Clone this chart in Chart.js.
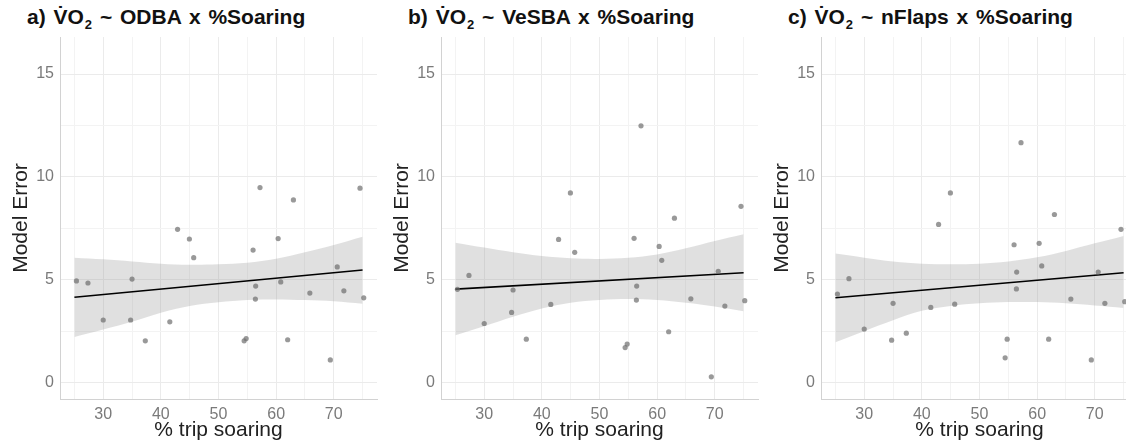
<!DOCTYPE html>
<html>
<head>
<meta charset="utf-8">
<script src="https://cdn.jsdelivr.net/npm/chart.js@4/dist/chart.umd.min.js"></script>
<style>
  html, body { margin: 0; padding: 0; background: #fff; overflow: hidden; }
  #wrap { position: relative; width: 1126px; height: 448px; overflow: hidden; }
  canvas { position: absolute; top: 0; }
  .title {
    position: absolute; top: 5px;
    font-family: "Liberation Sans", Arial, sans-serif;
    font-weight: bold; font-size: 21px; color: #111; white-space: nowrap;
    word-spacing: 2px;
  }
  .title sub { font-size: 13px; vertical-align: -5px; line-height: 0; margin-left: 1px; }
</style>
</head>
<body>
<div id="wrap">
  <div class="title" style="left:27px">a) V&#x307;O<sub>2</sub> ~ ODBA x %Soaring</div>
  <div class="title" style="left:408px">b) V&#x307;O<sub>2</sub> ~ VeSBA x %Soaring</div>
  <div class="title" style="left:788px">c) V&#x307;O<sub>2</sub> ~ nFlaps x %Soaring</div>
  <canvas id="chartA" width="381" height="448" style="left:0px"></canvas>
  <canvas id="chartB" width="381" height="448" style="left:381px"></canvas>
  <canvas id="chartC" width="381" height="448" style="left:761px"></canvas>
</div>
<script>
// % of trip spent soaring (same trips in every panel)
const soaringPct = [25.35, 27.35, 30.0, 35.0, 34.75, 37.3, 41.55, 42.9, 44.95, 45.7, 54.45, 54.8, 56.0,
                    57.2, 56.45, 56.4, 60.35, 60.8, 62.0, 63.0, 65.85, 69.4, 70.6, 71.75, 74.55, 75.2];

// model error per trip
const errorODBA  = [4.94, 4.84, 3.04, 5.03, 3.04, 2.03, 2.95, 7.45, 6.98, 6.07, 2.03, 2.14, 6.44,
                    9.48, 4.69, 4.06, 7.0, 4.89, 2.08, 8.88, 4.35, 1.10, 5.62, 4.46, 9.45, 4.12];
const errorVeSBA = [4.53, 5.21, 2.87, 4.50, 3.41, 2.11, 3.80, 6.96, 9.22, 6.33, 1.70, 1.87, 7.01,
                    12.48, 4.69, 4.01, 6.62, 5.94, 2.47, 7.99, 4.07, 0.28, 5.41, 3.72, 8.57, 3.98];
const errorFlaps = [4.30, 5.05, 2.60, 3.85, 2.06, 2.40, 3.65, 7.69, 9.22, 3.81, 1.20, 2.11, 6.70,
                    11.66, 5.37, 4.55, 6.77, 5.67, 2.11, 8.17, 4.06, 1.10, 5.37, 3.85, 7.45, 3.93];

// fitted line ends
const fitX = [25, 75];
const fitODBA  = [4.15, 5.47];
const fitVeSBA = [4.54, 5.34];
const fitFlaps = [4.12, 5.34];

// confidence band
const bandX = [25, 30, 35, 40, 45, 50, 55, 60, 65, 70, 75];
const upperODBA  = [6.07, 5.99, 5.89, 5.78, 5.73, 5.75, 5.83, 6.02, 6.33, 6.69, 7.09];
const lowerODBA  = [2.22, 2.58, 2.95, 3.39, 3.72, 3.90, 4.01, 4.04, 4.01, 3.95, 3.83];
const upperVeSBA = [6.80, 6.56, 6.33, 6.15, 6.04, 6.01, 6.07, 6.23, 6.53, 6.88, 7.21];
const lowerVeSBA = [2.30, 2.74, 3.20, 3.60, 3.88, 4.01, 4.06, 4.01, 3.88, 3.70, 3.47];
const upperFlaps = [6.27, 6.07, 5.88, 5.78, 5.75, 5.78, 5.89, 6.09, 6.40, 6.77, 7.13];
const lowerFlaps = [1.96, 2.50, 3.03, 3.49, 3.72, 3.85, 3.91, 3.91, 3.85, 3.75, 3.63];

// axis ticks
const xTicks = [25, 30, 35, 40, 45, 50, 55, 60, 65, 70, 75];
const yTicks = [0, 2.5, 5, 7.5, 10, 12.5, 15];

const FONT = '"Liberation Sans", Arial, sans-serif';

function pairs(xs, ys) {
    return xs.map((x, i) => ({ x: x, y: ys[i] }));
}

function makePanel(id, errors, fit, upper, lower) {
    const ctx = document.getElementById(id).getContext('2d');
    new Chart(ctx, {
        type: 'line',
        data: {
            datasets: [
                {
                    data: pairs(soaringPct, errors),
                    showLine: false,
                    pointRadius: 2.6,
                    pointBackgroundColor: 'rgba(110,110,110,0.7)',
                    pointBorderWidth: 0,
                    order: 0
                },
                {
                    data: pairs(fitX, fit),
                    borderColor: '#000',
                    borderWidth: 1.6,
                    pointRadius: 0,
                    fill: false,
                    order: 1
                },
                {
                    data: pairs(bandX, upper),
                    borderWidth: 0,
                    pointRadius: 0,
                    tension: 0.35,
                    fill: false,
                    order: 2
                },
                {
                    data: pairs(bandX, lower),
                    borderWidth: 0,
                    pointRadius: 0,
                    tension: 0.35,
                    fill: '-1',
                    backgroundColor: 'rgba(153,153,153,0.3)',
                    order: 3
                }
            ]
        },
        options: {
            responsive: false,
            animation: false,
            layout: { padding: { top: 37, right: 0, left: 0, bottom: 0 } },
            plugins: { legend: { display: false }, tooltip: { enabled: false } },
            scales: {
                x: {
                    type: 'linear',
                    min: 22.5,
                    max: 77.5,
                    afterFit: s => { s.height = 49; },
                    afterBuildTicks: s => { s.ticks = xTicks.map(v => ({ value: v })); },
                    ticks: {
                        padding: 6,
                        color: '#7a7a7a',
                        font: { family: FONT, size: 16 },
                        maxRotation: 0,
                        autoSkip: false,
                        callback: v => (v % 10 === 0 ? String(v) : '')
                    },
                    grid: {
                        drawTicks: false,
                        color: c => (c.tick && c.tick.value % 10 === 0 ? '#ebebeb' : '#f3f3f3')
                    },
                    border: { display: true, color: '#d2d2d2', width: 1 },
                    title: {
                        display: true,
                        text: '% trip soaring',
                        color: '#222',
                        font: { family: FONT, size: 21 },
                        padding: { top: 0, bottom: 5 }
                    }
                },
                y: {
                    min: -0.8,
                    max: 16.8,
                    afterFit: s => { s.width = 60; },
                    afterBuildTicks: s => { s.ticks = yTicks.map(v => ({ value: v })); },
                    ticks: {
                        padding: 6,
                        color: '#7a7a7a',
                        font: { family: FONT, size: 16 },
                        autoSkip: false,
                        callback: v => (v % 5 === 0 ? String(v) : '')
                    },
                    grid: {
                        drawTicks: false,
                        color: c => (c.tick && c.tick.value % 5 === 0 ? '#ebebeb' : '#f3f3f3')
                    },
                    border: { display: true, color: '#d2d2d2', width: 1 },
                    title: {
                        display: true,
                        text: 'Model Error',
                        color: '#222',
                        font: { family: FONT, size: 21 },
                        padding: { top: 9, bottom: 0 }
                    }
                }
            }
        }
    });
}

makePanel('chartA', errorODBA, fitODBA, upperODBA, lowerODBA);
makePanel('chartB', errorVeSBA, fitVeSBA, upperVeSBA, lowerVeSBA);
makePanel('chartC', errorFlaps, fitFlaps, upperFlaps, lowerFlaps);
</script>
</body>
</html>
